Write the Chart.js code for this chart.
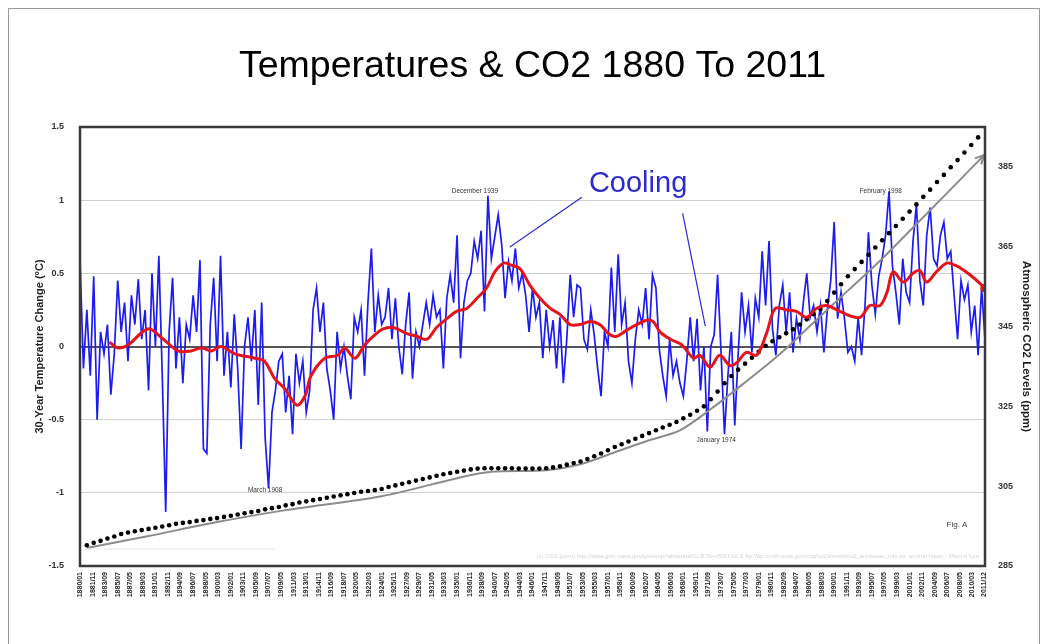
<!DOCTYPE html>
<html>
<head>
<meta charset="utf-8">
<title>Temperatures & CO2 1880 To 2011</title>
<script src="https://cdn.jsdelivr.net/npm/chart.js@4.4.1/dist/chart.umd.min.js"></script>
<style>
  html, body { margin: 0; padding: 0; background: #fff; }
  #wrap { width: 1047px; height: 644px; }
</style>
</head>
<body>
<div id="wrap"><canvas id="myChart" width="1047" height="644"></canvas></div>
<script>
// temperature anomaly, every half year from Jan 1880
const tempStart = 1880
const tempStep = 0.5
const tempValues = [
  0.6, -0.15, 0.25, -0.2, 0.48, -0.5, 0.1, -0.05, 0.15, -0.33,
  -0.05, 0.45, 0.1, 0.3, -0.1, 0.35, 0.15, 0.46, 0.05, 0.25,
  -0.3, 0.5, 0.0, 0.62, -0.2, -1.13, 0.1, 0.47, -0.15, 0.2,
  -0.25, 0.15, 0.05, 0.35, 0.1, 0.59, -0.7, -0.73, 0.15, 0.47,
  -0.1, 0.62, -0.2, 0.1, -0.28, 0.22, -0.15, -0.7, 0.0, 0.2,
  -0.1, 0.25, -0.4, 0.3, -0.62, -0.97, -0.45, -0.3, -0.1, -0.05,
  -0.45, -0.2, -0.6, -0.05, -0.25, -0.1, -0.45, -0.3, 0.25, 0.4,
  0.1, 0.3, -0.15, -0.3, -0.5, 0.1, -0.15, 0.0, -0.2, -0.36,
  0.2, 0.1, 0.25, -0.2, 0.3, 0.67, 0.1, 0.35, 0.15,
  0.2, 0.4, 0.05, 0.33, 0.0, -0.19, 0.15, 0.37, -0.22, 0.1,
  0.0, 0.15, 0.3, 0.15, 0.35, 0.2, 0.25, -0.15, 0.33, 0.49,
  0.3, 0.76, -0.08, 0.3, 0.45, 0.5, 0.72, 0.6, 0.79, 0.24,
  1.03, 0.6, 0.75, 0.9, 0.7, 0.33, 0.58, 0.45, 0.67, 0.4,
  0.5, 0.35, 0.1, 0.4, 0.2, 0.3, -0.08, 0.25, 0.0, 0.18,
  -0.15, 0.2, -0.25, 0.05, 0.49, 0.2, 0.42, 0.4, 0.05, -0.02,
  0.25, 0.08, -0.15, -0.34, 0.1, 0.0, 0.54, 0.1, 0.63, 0.15,
  0.3, -0.1, -0.25, 0.05, 0.25, 0.15, 0.4, 0.05, 0.49, 0.4,
  -0.02, -0.2, -0.34, 0.05, -0.2, -0.1, -0.25, -0.34, -0.1,
  0.2, -0.1, 0.19, -0.3, 0.0, -0.58, 0.0, 0.08, 0.49, -0.04,
  -0.6, -0.2, 0.1, -0.54, -0.05, 0.37, 0.1, 0.28, -0.04, 0.33,
  0.2, 0.65, 0.28, 0.72, 0.12, -0.06, 0.28, 0.42, 0.1, 0.37,
  -0.04, 0.19, 0.05, 0.3, 0.5, 0.2, 0.28, 0.1, 0.28, -0.04,
  0.25, 0.45, 0.85, 0.19, 0.37, 0.19, -0.04, 0.0, -0.1, 0.2,
  -0.06, 0.28, 0.78, 0.42, 0.22, 0.48, 0.6, 0.76, 1.06, 0.55,
  0.37, 0.15, 0.6, 0.37, 0.3, 0.72, 0.97, 0.45, 0.28, 0.76,
  0.95, 0.6, 0.55, 0.76, 0.85, 0.6, 0.65, 0.35, 0.05, 0.45,
  0.32, 0.42, 0.1, 0.28, -0.06, 0.4, 0.05
]

// 30-year running mean (red)
const smoothYears = [
  1884.3, 1885.5, 1887.0, 1889.9, 1891.9, 1894.3, 1896.2, 1897.7, 1899.2, 1900.6,
  1902.6, 1905.5, 1906.9, 1908.4, 1909.9, 1911.6, 1912.8, 1913.7, 1915.7, 1917.6,
  1918.6, 1920.1, 1921.5, 1923.0, 1924.2, 1925.7, 1927.6, 1929.1, 1930.6, 1932.0,
  1933.5, 1934.9, 1936.4, 1937.9, 1939.3, 1940.5, 1941.8, 1942.7, 1944.2, 1945.6,
  1947.1, 1948.6, 1950.0, 1951.5, 1952.9, 1954.4, 1955.8, 1957.3, 1958.3, 1959.7,
  1961.2, 1962.7, 1963.6, 1964.6, 1966.1, 1967.5, 1968.2, 1969.5, 1970.4, 1971.9,
  1973.3, 1974.8, 1975.8, 1977.2, 1978.7, 1980.2, 1981.4, 1983.1, 1984.5, 1986.0,
  1987.4, 1988.9, 1990.4, 1992.3, 1993.8, 1995.2, 1996.7, 1997.7, 1998.6, 2000.1,
  2001.5, 2002.5, 2003.5, 2004.9, 2006.4, 2007.4, 2008.3, 2009.8, 2011.3, 2011.9
]
const smoothValues = [
  0.03, -0.01, 0.01, 0.12, 0.06, -0.03, -0.03, -0.01, -0.03, 0.0,
  -0.05, -0.08, -0.1, -0.22, -0.29, -0.4, -0.34, -0.2, -0.08, -0.06,
  -0.01, -0.08, 0.01, 0.08, 0.12, 0.13, 0.09, 0.07, 0.05, 0.13,
  0.19, 0.24, 0.26, 0.33, 0.4, 0.51, 0.57, 0.56, 0.53, 0.42,
  0.33, 0.26, 0.22, 0.15, 0.15, 0.17, 0.15, 0.08, 0.07, 0.11,
  0.15, 0.18, 0.17, 0.1, 0.05, 0.02, -0.01, -0.08, -0.06, -0.14,
  -0.06, -0.13, -0.11, -0.04, -0.06, 0.1, 0.26, 0.25, 0.24, 0.2,
  0.26, 0.28, 0.25, 0.21, 0.2, 0.28, 0.28, 0.37, 0.51, 0.44,
  0.5, 0.52, 0.44, 0.51, 0.57, 0.56, 0.54, 0.49, 0.43, 0.4
]

// CO2 ppm, one dot a year from 1881
const co2Start = 1881
const co2Values = [
  290.2, 290.8, 291.3, 291.9, 292.4, 293.0, 293.4, 293.7, 294.0, 294.3,
  294.6, 294.9, 295.2, 295.6, 295.8, 296.0, 296.3, 296.5, 296.8, 297.0,
  297.3, 297.6, 297.9, 298.2, 298.5, 298.8, 299.2, 299.5, 299.8, 300.2,
  300.5, 300.9, 301.2, 301.5, 301.8, 302.1, 302.4, 302.7, 303.0, 303.3,
  303.6, 303.8, 304.0, 304.3, 304.8, 305.2, 305.6, 306.0, 306.4, 306.8,
  307.2, 307.6, 308.0, 308.3, 308.6, 308.9, 309.2, 309.4, 309.5, 309.5,
  309.5, 309.5, 309.5, 309.4, 309.4, 309.4, 309.4, 309.5, 309.7, 310.0,
  310.4, 310.8, 311.2, 311.8, 312.5, 313.2, 314.0, 314.8, 315.5, 316.2,
  316.9, 317.6, 318.3, 319.0, 319.7, 320.4, 321.1, 322.0, 322.9, 323.9,
  325.0, 326.8, 328.7, 330.8, 332.6, 334.2, 335.7, 337.2, 338.7, 340.2,
  341.3, 342.3, 343.3, 344.3, 345.5, 346.8, 348.1, 349.4, 351.4, 353.5,
  355.6, 357.6, 359.4, 361.2, 363.0, 364.8, 366.6, 368.4, 370.2, 372.0,
  373.8, 375.6, 377.5, 379.3, 381.2, 383.0, 384.9, 386.7, 388.6, 390.5,
  392.4
]

// grey CO2 trend line
const trendYears = [1881, 1890, 1900, 1910, 1924, 1935, 1940, 1948, 1953, 1958, 1963, 1967.5, 1972.3, 1977, 1982, 1987, 1992, 1997, 2001.5, 2006.5, 2011.9]
const trendValues = [289.5, 292.5, 296, 299, 302.5, 307, 308.6, 309, 310.5, 313.5, 316.5, 319, 324.7, 331, 338, 346, 354, 362, 369.8, 378.5, 388]

const tempTicks = [-1.5, -1, -0.5, 0, 0.5, 1, 1.5]
const co2Ticks = [285, 305, 325, 345, 365, 385]
const xTickLabels = [
  "1880/01", "1881/11", "1883/09", "1885/07", "1887/05", "1889/03", "1891/01", "1892/11", "1894/09", "1896/07",
  "1898/05", "1900/03", "1902/01", "1903/11", "1905/09", "1907/07", "1909/05", "1911/03", "1913/01", "1914/11",
  "1916/09", "1918/07", "1920/05", "1922/03", "1924/01", "1925/11", "1927/09", "1929/07", "1931/05", "1933/03",
  "1935/01", "1936/11", "1938/09", "1940/07", "1942/05", "1944/03", "1946/01", "1947/11", "1949/09", "1951/07",
  "1953/05", "1955/03", "1957/01", "1958/11", "1960/09", "1962/07", "1964/05", "1966/03", "1968/01", "1969/11",
  "1971/09", "1973/07", "1975/05", "1977/03", "1979/01", "1980/11", "1982/09", "1984/07", "1986/05", "1988/03",
  "1990/01", "1991/11", "1993/09", "1995/07", "1997/05", "1999/03", "2001/01", "2002/11", "2004/09", "2006/07",
  "2008/05", "2010/03", "2011/12"
]

// notes placed in data units (year, temperature)
const notes = [
  { text: "December 1939", x: 1937.6, y: 1.06 },
  { text: "March 1908", x: 1907.0, y: -0.98 },
  { text: "January 1974", x: 1972.8, y: -0.64 },
  { text: "February 1998", x: 1996.8, y: 1.06 }
]
const coolingLabel = { text: "Cooling", x: 1961.4, y: 1.11 }
const coolingLines = [
  [1953.2, 1.02, 1942.7, 0.68],
  [1967.9, 0.91, 1971.2, 0.14]
]

function labelToYear(l) {
  const p = l.split("/")
  return parseInt(p[0]) + (parseInt(p[1]) - 1) / 12
}

const extras = {
  id: "extras",
  afterDatasetsDraw(chart) {
    const ctx = chart.ctx
    const a = chart.chartArea
    const sx = chart.scales.x, sy = chart.scales.y, sy2 = chart.scales.y2
    ctx.save()

    // arrow head on the grey line
    const n = trendYears.length
    const x1 = sx.getPixelForValue(trendYears[n - 2]), y1 = sy2.getPixelForValue(trendValues[n - 2])
    const x2 = sx.getPixelForValue(trendYears[n - 1]), y2 = sy2.getPixelForValue(trendValues[n - 1])
    const ang = Math.atan2(y2 - y1, x2 - x1)
    ctx.strokeStyle = "#8c8c8c"
    ctx.lineWidth = 2
    ctx.beginPath()
    ctx.moveTo(x2 - 10 * Math.cos(ang - 0.45), y2 - 10 * Math.sin(ang - 0.45))
    ctx.lineTo(x2, y2)
    ctx.lineTo(x2 - 10 * Math.cos(ang + 0.45), y2 - 10 * Math.sin(ang + 0.45))
    ctx.stroke()

    // plot frame
    ctx.strokeStyle = "#3a3a3a"
    ctx.lineWidth = 2.5
    ctx.strokeRect(a.left, a.top, a.right - a.left, a.bottom - a.top)

    // small date notes
    ctx.fillStyle = "#333"
    ctx.font = "6.5px 'Liberation Sans', Arial, sans-serif"
    ctx.textAlign = "center"
    ctx.textBaseline = "middle"
    for (const nt of notes) {
      ctx.fillText(nt.text, sx.getPixelForValue(nt.x), sy.getPixelForValue(nt.y))
    }

    // Cooling
    ctx.strokeStyle = "#2b2bd0"
    ctx.lineWidth = 1.2
    for (const l of coolingLines) {
      ctx.beginPath()
      ctx.moveTo(sx.getPixelForValue(l[0]), sy.getPixelForValue(l[1]))
      ctx.lineTo(sx.getPixelForValue(l[2]), sy.getPixelForValue(l[3]))
      ctx.stroke()
    }
    ctx.fillStyle = "#2b2bd0"
    ctx.font = "29px 'Liberation Sans', Arial, sans-serif"
    ctx.fillText(coolingLabel.text, sx.getPixelForValue(coolingLabel.x), sy.getPixelForValue(coolingLabel.y))

    // Fig. A and faint source line
    ctx.fillStyle = "#444"
    ctx.font = "8px 'Liberation Sans', Arial, sans-serif"
    ctx.fillText("Fig. A", a.right - 28, a.bottom - 41)
    ctx.fillStyle = "#d4d4d4"
    ctx.font = "6px 'Liberation Sans', Arial, sans-serif"
    ctx.textAlign = "right"
    ctx.fillText("(1) CO2 (ppm) http://data.giss.nasa.gov/gistemp/tabledata/GLB.Ts+dSST.txt & ftp://ftp.cmdl.noaa.gov/ccg/co2/trends/co2_annmean_mlo.txt  annual mean - Mauna Loa",
      a.right - 6, a.bottom - 10, 640)
    ctx.strokeStyle = "#e4e4e4"
    ctx.lineWidth = 1
    ctx.beginPath()
    ctx.moveTo(a.left + 6, a.bottom - 17)
    ctx.lineTo(a.left + 195, a.bottom - 17)
    ctx.stroke()

    // outer frame of the picture
    ctx.strokeStyle = "#9a9a9a"
    ctx.lineWidth = 1
    ctx.strokeRect(8.5, 8.5, 1031, 650)
    ctx.restore()
  }
}

function cargarGrafica() {
  const grafica = document.getElementById("myChart").getContext("2d")

  const temps = tempValues.map((v, i) => ({ x: tempStart + i * tempStep, y: v }))
  const smooth = smoothValues.map((v, i) => ({ x: smoothYears[i], y: v }))
  const co2 = co2Values.map((v, i) => ({ x: co2Start + i, y: v }))
  const trend = trendValues.map((v, i) => ({ x: trendYears[i], y: v }))
  const tickFont = { family: "'Liberation Sans', Arial, sans-serif", size: 9, weight: "bold" }

  new Chart(grafica, {
    type: "line",
    data: {
      datasets: [
        {
          label: "30-year mean",
          data: smooth,
          yAxisID: "y",
          borderColor: "#e3141b",
          borderWidth: 3,
          tension: 0.35,
          pointRadius: ctx => ctx.dataIndex === smoothValues.length - 1 ? 4 : 0,
          pointBackgroundColor: "#e3141b",
          pointBorderWidth: 0
        },
        {
          label: "CO2",
          data: co2,
          yAxisID: "y2",
          showLine: false,
          pointRadius: 2.3,
          pointBackgroundColor: "#000",
          pointBorderWidth: 0
        },
        {
          label: "CO2 trend",
          data: trend,
          yAxisID: "y2",
          borderColor: "#8c8c8c",
          borderWidth: 2,
          tension: 0.3,
          pointRadius: 0
        },
        {
          label: "Temperature",
          data: temps,
          yAxisID: "y",
          borderColor: "#1c1cf0",
          borderWidth: 1.7,
          tension: 0,
          pointRadius: 0
        }
      ]
    },
    options: {
      responsive: false,
      animation: false,
      devicePixelRatio: 1,
      layout: { padding: 0 },
      plugins: {
        legend: { display: false },
        tooltip: { enabled: false },
        title: {
          display: true,
          fullSize: false,
          text: "Temperatures & CO2 1880 To 2011",
          color: "#000",
          font: { family: "'Liberation Sans', Arial, sans-serif", size: 37.5, weight: "normal", lineHeight: 1.2 },
          padding: { top: 44, bottom: 38 }
        }
      },
      scales: {
        x: {
          type: "linear",
          min: 1880,
          max: 2012,
          afterBuildTicks: axis => { axis.ticks = xTickLabels.map(l => ({ value: labelToYear(l) })) },
          afterFit: scale => { scale.height = 78 },
          grid: { display: false, drawTicks: false },
          border: { display: false },
          ticks: {
            autoSkip: false,
            minRotation: 90,
            maxRotation: 90,
            padding: 6,
            color: "#2a2a2a",
            font: { family: "'Liberation Sans', Arial, sans-serif", size: 7, weight: "bold" },
            callback: (v, i) => xTickLabels[i]
          }
        },
        y: {
          position: "left",
          min: -1.5,
          max: 1.5,
          afterBuildTicks: axis => { axis.ticks = tempTicks.map(v => ({ value: v })) },
          afterFit: scale => { scale.width = 80 },
          grid: {
            drawTicks: false,
            color: c => c.tick && c.tick.value === 0 ? "#555" : "#cfcfcf",
            lineWidth: c => c.tick && c.tick.value === 0 ? 2 : 1
          },
          border: { display: false },
          ticks: { padding: 16, color: "#333", font: tickFont, callback: v => String(v) },
          title: {
            display: true,
            text: "30-Year Temperature Change (°C)",
            color: "#222",
            font: { family: "'Liberation Sans', Arial, sans-serif", size: 11, weight: "bold", lineHeight: 1.2 },
            padding: { top: 33 }
          }
        },
        y2: {
          position: "right",
          min: 285,
          max: 395,
          afterBuildTicks: axis => { axis.ticks = co2Ticks.map(v => ({ value: v })) },
          afterFit: scale => { scale.width = 62 },
          grid: { display: false, drawTicks: false },
          border: { display: false },
          ticks: { padding: 13, color: "#333", font: tickFont },
          title: {
            display: true,
            text: "Atmospheric CO2 Levels (ppm)",
            color: "#222",
            font: { family: "'Liberation Sans', Arial, sans-serif", size: 11.5, weight: "bold", lineHeight: 1.2 },
            padding: { top: 14 }
          }
        }
      }
    },
    plugins: [extras]
  })
}

cargarGrafica()
</script>
</body>
</html>
